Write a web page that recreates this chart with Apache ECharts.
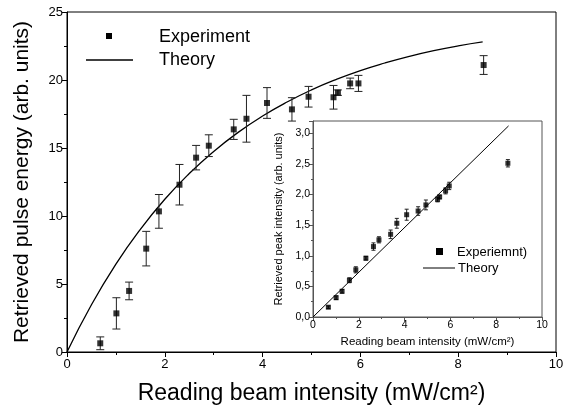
<!DOCTYPE html>
<html>
<head>
<meta charset="utf-8">
<script src="https://cdn.jsdelivr.net/npm/echarts@6/dist/echarts.min.js"></script>
<style>
  html, body { margin: 0; padding: 0; background: #fff; }
  #chart { width: 566px; height: 405px; }
</style>
</head>
<body>
<div id="chart"></div>
<script>
// main panel: retrieved pulse energy vs reading beam intensity
var mainX   = [0.68, 1.01, 1.27, 1.62, 1.88, 2.30, 2.64, 2.90, 3.41, 3.67, 4.09, 4.60, 4.94, 5.45, 5.54, 5.79, 5.96, 8.52];
var mainY   = [0.64, 2.84, 4.49, 7.60, 10.34, 12.30, 14.29, 15.17, 16.37, 17.15, 18.31, 17.84, 18.77, 18.73, 19.07, 19.75, 19.75, 21.10];
var mainErr = [0.47, 1.15, 0.65, 1.27, 1.24, 1.49, 0.90, 0.80, 0.74, 1.72, 1.13, 0.86, 0.76, 0.87, 0.20, 0.39, 0.59, 0.69];
var theoryX = [0, 0.5, 1, 1.5, 2, 2.5, 3, 3.5, 4, 4.5, 5, 5.5, 6, 6.5, 7, 7.5, 8, 8.5];
var theoryY = [0, 3.47, 6.46, 9.02, 11.23, 13.12, 14.75, 16.15, 17.35, 18.38, 19.27, 20.03, 20.69, 21.25, 21.74, 22.16, 22.51, 22.80];

// inset: retrieved peak intensity
var insetX   = [0.67, 1.01, 1.27, 1.59, 1.87, 2.31, 2.64, 2.88, 3.39, 3.66, 4.09, 4.59, 4.93, 5.44, 5.53, 5.79, 5.95, 8.51];
var insetY   = [0.16, 0.315, 0.42, 0.60, 0.77, 0.96, 1.15, 1.26, 1.35, 1.53, 1.67, 1.73, 1.83, 1.92, 1.96, 2.06, 2.14, 2.51];
var insetErr = [0.02, 0.03, 0.03, 0.04, 0.05, 0.03, 0.06, 0.05, 0.07, 0.08, 0.09, 0.07, 0.08, 0.04, 0.03, 0.05, 0.06, 0.06];
var insetTheoryX = [0, 8.54];
var insetTheoryY = [0, 3.12];

var font = 'Liberation Sans, Arial, sans-serif';

function pairs(xs, ys) {
  return xs.map(function (x, i) { return [x, ys[i]]; });
}
function errData(xs, ys, es) {
  return xs.map(function (x, i) { return [x, ys[i] - es[i], ys[i] + es[i]]; });
}
function errBars(cap, color) {
  return function (params, api) {
    var lo = api.coord([api.value(0), api.value(1)]);
    var hi = api.coord([api.value(0), api.value(2)]);
    var st = { stroke: color, lineWidth: 1 };
    return {
      type: 'group',
      children: [
        { type: 'line', shape: { x1: lo[0], y1: lo[1], x2: hi[0], y2: hi[1] }, style: st },
        { type: 'line', shape: { x1: lo[0] - cap, y1: lo[1], x2: lo[0] + cap, y2: lo[1] }, style: st },
        { type: 'line', shape: { x1: hi[0] - cap, y1: hi[1], x2: hi[0] + cap, y2: hi[1] }, style: st }
      ]
    };
  };
}
function comma(v) {
  return (Math.round(v * 10) % 5 === 0) ? v.toFixed(1).replace('.', ',') : '';
}

var chart = echarts.init(document.getElementById('chart'));
var option = {
  animation: false,
  grid: [
    { left: 67, top: 12, right: 10, bottom: 53, outerBoundsMode: 'none', containLabel: false,
      show: true, borderColor: '#000', borderWidth: 1 },
    { left: 313, top: 121, right: 24, bottom: 88, outerBoundsMode: 'none', containLabel: false,
      show: true, borderColor: '#555', borderWidth: 1, backgroundColor: '#fff' }
  ],
  xAxis: [
    {
      gridIndex: 0, type: 'value', min: 0, max: 10, interval: 2,
      name: 'Reading beam intensity (mW/cm\u00b2)', nameLocation: 'middle', nameGap: 30,
      nameTextStyle: { fontFamily: font, fontSize: 23, color: '#000' },
      axisLine: { onZero: false, lineStyle: { color: '#000' } },
      axisTick: { length: 5, lineStyle: { color: '#000' } },
      minorTick: { show: true, splitNumber: 2, length: 3, lineStyle: { color: '#000' } },
      splitLine: { show: false },
      axisLabel: { fontFamily: font, fontSize: 13, color: '#000', margin: 6 }
    },
    {
      gridIndex: 1, type: 'value', min: 0, max: 10, interval: 2,
      name: 'Reading beam intensity (mW/cm\u00b2)', nameLocation: 'middle', nameGap: 19,
      nameTextStyle: { fontFamily: font, fontSize: 11.5, color: '#000' },
      axisLine: { onZero: false, lineStyle: { color: '#555' } },
      axisTick: { length: 4, lineStyle: { color: '#555' } },
      minorTick: { show: true, splitNumber: 2, length: 2, lineStyle: { color: '#555' } },
      splitLine: { show: false },
      axisLabel: { fontFamily: font, fontSize: 10.5, color: '#000', margin: 3 }
    }
  ],
  yAxis: [
    {
      gridIndex: 0, type: 'value', min: 0, max: 25, interval: 5,
      name: 'Retrieved pulse energy (arb. units)', nameLocation: 'middle', nameGap: 34,
      nameTextStyle: { fontFamily: font, fontSize: 21, color: '#000' },
      axisLine: { onZero: false, lineStyle: { color: '#000' } },
      axisTick: { length: 5, lineStyle: { color: '#000' } },
      minorTick: { show: true, splitNumber: 2, length: 3, lineStyle: { color: '#000' } },
      splitLine: { show: false },
      axisLabel: { fontFamily: font, fontSize: 13, color: '#000', margin: 4 }
    },
    {
      gridIndex: 1, type: 'value', min: 0, max: 3.2, interval: 0.5,
      name: 'Retrieved peak intensity (arb. units)', nameLocation: 'middle', nameGap: 29,
      nameTextStyle: { fontFamily: font, fontSize: 11, color: '#000' },
      axisLine: { onZero: false, lineStyle: { color: '#555' } },
      axisTick: { length: 4, lineStyle: { color: '#555' } },
      minorTick: { show: true, splitNumber: 2, length: 2, lineStyle: { color: '#555' } },
      splitLine: { show: false },
      axisLabel: { fontFamily: font, fontSize: 10.5, color: '#000', margin: 3, formatter: comma }
    }
  ],
  series: [
    {
      name: 'Theory', type: 'line', xAxisIndex: 0, yAxisIndex: 0,
      data: pairs(theoryX, theoryY), smooth: true, showSymbol: false,
      lineStyle: { color: '#000', width: 1.3 }, z: 2
    },
    {
      type: 'custom', xAxisIndex: 0, yAxisIndex: 0,
      data: errData(mainX, mainY, mainErr), renderItem: errBars(4, '#222'), z: 3
    },
    {
      name: 'Experiment', type: 'scatter', xAxisIndex: 0, yAxisIndex: 0,
      data: pairs(mainX, mainY), symbol: 'rect', symbolSize: 6,
      itemStyle: { color: '#000' }, z: 4
    },
    {
      name: 'Theory', type: 'line', xAxisIndex: 1, yAxisIndex: 1,
      data: pairs(insetTheoryX, insetTheoryY), showSymbol: false,
      lineStyle: { color: '#000', width: 1 }, z: 12
    },
    {
      type: 'custom', xAxisIndex: 1, yAxisIndex: 1,
      data: errData(insetX, insetY, insetErr), renderItem: errBars(2, '#222'), z: 13
    },
    {
      name: 'Experiemnt)', type: 'scatter', xAxisIndex: 1, yAxisIndex: 1,
      data: pairs(insetX, insetY), symbol: 'rect', symbolSize: 5,
      itemStyle: { color: '#000' }, z: 14
    }
  ],
  graphic: [
    // main legend
    { type: 'rect', shape: { x: 106, y: 33, width: 6, height: 6 }, style: { fill: '#000' }, z: 20 },
    { type: 'text', x: 159, y: 37, style: { text: 'Experiment', font: '18px ' + font, fill: '#000', verticalAlign: 'middle' }, z: 20 },
    { type: 'line', shape: { x1: 86, y1: 60, x2: 133, y2: 60 }, style: { stroke: '#000', lineWidth: 1.3 }, z: 20 },
    { type: 'text', x: 159, y: 60, style: { text: 'Theory', font: '18px ' + font, fill: '#000', verticalAlign: 'middle' }, z: 20 },
    // inset legend
    { type: 'rect', shape: { x: 436, y: 248, width: 7, height: 7 }, style: { fill: '#000' }, z: 20 },
    { type: 'text', x: 457, y: 252, style: { text: 'Experiemnt)', font: '13px ' + font, fill: '#000', verticalAlign: 'middle' }, z: 20 },
    { type: 'line', shape: { x1: 423, y1: 268, x2: 455, y2: 268 }, style: { stroke: '#000', lineWidth: 1 }, z: 20 },
    { type: 'text', x: 458, y: 268, style: { text: 'Theory', font: '13px ' + font, fill: '#000', verticalAlign: 'middle' }, z: 20 }
  ]
};
chart.setOption(option);
</script>
</body>
</html>
